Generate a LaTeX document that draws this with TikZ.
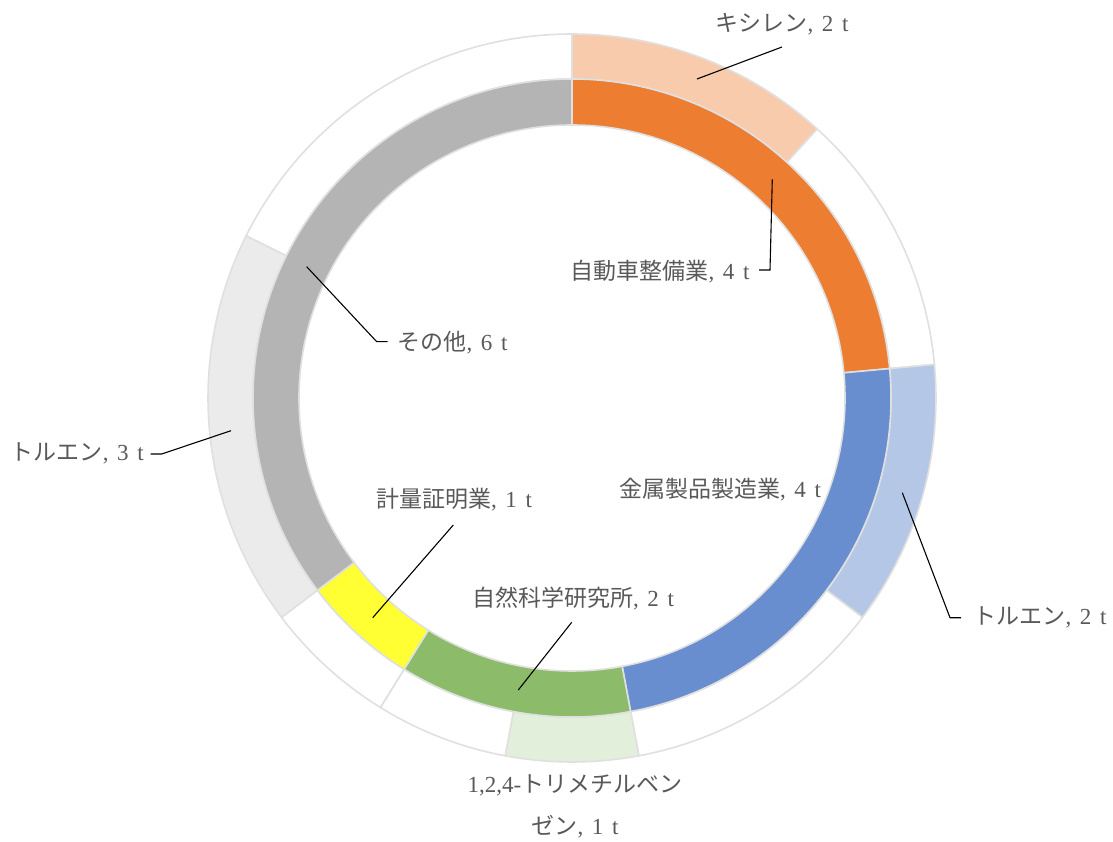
\documentclass[tikz,border=0pt]{standalone}
\usepackage{fontspec}
\setmainfont{Liberation Serif}[WordSpace=1.5]
\newfontfamily\jp{Noto Sans CJK JP}
\definecolor{cOrange}{HTML}{ED7D31}
\definecolor{cBlue}{HTML}{698ED0}
\definecolor{cGreen}{HTML}{8CBB6A}
\definecolor{cYellow}{HTML}{FFFF33}
\definecolor{cGray}{HTML}{B4B4B4}
\definecolor{cPeach}{HTML}{F8CBAD}
\definecolor{cLBlue}{HTML}{B4C7E7}
\definecolor{cLGreen}{HTML}{E2EFDA}
\definecolor{cLGray}{HTML}{EBEBEB}
\definecolor{cBorder}{RGB}{224,224,224}
\definecolor{cText}{HTML}{595959}
\newcommand\ringseg[5]{%
  \filldraw[segborder, fill=#5] ([shift={(#1:#3)}]C) arc[start angle=#1, end angle=#2, radius=#3]
    -- ([shift={(#2:#4)}]C) arc[start angle=#2, end angle=#1, radius=#4] -- cycle;}
\begin{document}
\begin{tikzpicture}[x=1pt,y=1pt,
  segborder/.style={draw=cBorder, line width=1.6pt, line join=miter},
  lbl/.style={font=\fontsize{23}{42}\selectfont, text=cText, inner sep=0pt, align=center},
  leader/.style={draw=black, line width=1.1pt}]
\useasboundingbox (0,0) rectangle (1113,841);
\coordinate (C) at (572,443);
% outer ring
\ringseg{90}{47.647}{319}{364}{cPeach}
\ringseg{47.647}{5.294}{319}{364}{white}
\ringseg{5.294}{-37.059}{319}{364}{cLBlue}
\ringseg{-37.059}{-79.412}{319}{364}{white}
\ringseg{-79.412}{-100.588}{319}{364}{cLGreen}
\ringseg{-100.588}{-121.765}{319}{364}{white}
\ringseg{-121.765}{-142.941}{319}{364}{white}
\ringseg{-142.941}{-206.471}{319}{364}{cLGray}
\ringseg{-206.471}{-270}{319}{364}{white}
% inner ring
\ringseg{90}{5.294}{273}{319}{cOrange}
\ringseg{5.294}{-79.412}{273}{319}{cBlue}
\ringseg{-79.412}{-121.765}{273}{319}{cGreen}
\ringseg{-121.765}{-142.941}{273}{319}{cYellow}
\ringseg{-142.941}{-270}{273}{319}{cGray}
% labels
\node[lbl] (lK) at (782,817) {{\jp キシレン}, 2 t};
\node[lbl] (lA) at (660,569.3) {{\jp 自動車整備業}, 4 t};
\node[lbl] (lO) at (452.5,498) {{\jp その他}, 6 t};
\node[lbl] (lT3) at (77.2,388) {{\jp トルエン}, 3 t};
\node[lbl] (lM) at (454,341) {{\jp 計量証明業}, 1 t};
\node[lbl] (lB) at (720,351.7) {{\jp 金属製品製造業}, 4 t};
\node[lbl] (lT2) at (1040,223.3) {{\jp トルエン}, 2 t};
\node[lbl] (lN) at (573,242.7) {{\jp 自然科学研究所}, 2 t};
\node[lbl] (lTMB) at (575,35) {1,2,4-{\jp トリメチルベン}\\{\jp ゼン}, 1 t};
% leader points
\coordinate (pK) at (697,762);
\coordinate (eK) at (782,794);
\coordinate (pA) at (772.3,661.7);
\coordinate (kA) at (770,571);
\coordinate (pO) at (306.7,574.3);
\coordinate (kO) at (376.7,499.3);
\coordinate (pT3) at (231,410.3);
\coordinate (kT3) at (161.7,387);
\coordinate (pM) at (372.7,223.3);
\coordinate (eM) at (453.3,316);
\coordinate (pT2) at (902.3,348.3);
\coordinate (kT2) at (950,223.3);
\coordinate (pN) at (518.3,151);
\coordinate (eN) at (571.7,218.7);
% leaders
\draw[leader] (pK) -- (eK);
\draw[leader] (pA) -- (kA) -- ([xshift=-11pt]kA);
\draw[leader] (pO) -- (kO) -- ([xshift=11pt]kO);
\draw[leader] (pT3) -- (kT3) -- ([xshift=-11pt]kT3);
\draw[leader] (pM) -- (eM);
\draw[leader] (pT2) -- (kT2) -- ([xshift=11pt]kT2);
\draw[leader] (pN) -- (eN);
\end{tikzpicture}
\end{document}
